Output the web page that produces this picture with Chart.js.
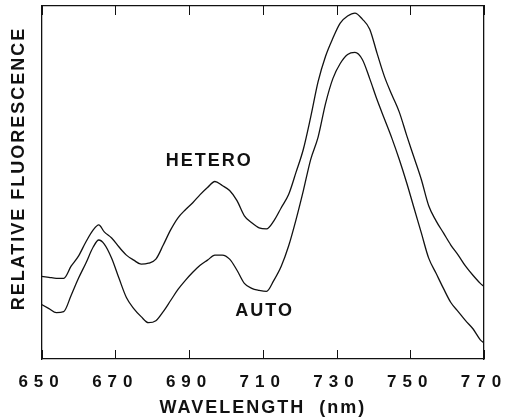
<!DOCTYPE html>
<html>
<head>
<meta charset="utf-8">
<script src="https://cdn.jsdelivr.net/npm/chart.js@4.4.1/dist/chart.umd.min.js"></script>
<style>
  html, body { margin: 0; padding: 0; background: #fff; }
  #wrap { width: 506px; height: 420px; }
</style>
</head>
<body>
<div id="wrap"><canvas id="spectrum"></canvas></div>
<script>
// emission spectra (arbitrary units)
let wavelength = [650, 652, 654, 656, 658, 660, 662, 664, 665.5, 667, 669, 671, 673, 675, 677, 679, 681, 683, 685, 687,
  689, 691, 693, 695, 697, 699, 701, 703, 705, 707, 709, 711, 713, 715, 717, 719, 721, 723, 725, 727,
  729, 731, 733, 735, 737, 739, 741, 743, 745, 747, 749, 751, 753, 755, 757, 759, 761, 763, 765, 767, 769, 770];
let hetero = [82, 81, 80, 80, 92, 102, 116, 128, 133, 126, 120, 111, 103, 98, 94, 95, 99, 113, 128, 140,
  148, 155, 163, 170, 176, 172, 167, 157, 142, 135, 130, 129, 137, 150, 163, 185, 208, 240, 275, 300,
  318, 333, 340, 343, 337, 327, 303, 280, 262, 245, 222, 200, 178, 152, 137, 125, 113, 103, 92, 83, 75, 72];
let auto = [54, 50, 46, 47, 63, 80, 95, 111, 118, 114, 100, 80, 61, 50, 42, 36, 38, 47, 58, 69,
  78, 86, 93, 98, 103, 103, 99, 88, 75, 70, 68, 67, 78, 92, 112, 138, 167, 198, 220, 253,
  278, 293, 302, 304, 297, 278, 257, 238, 219, 198, 175, 150, 125, 100, 85, 70, 56, 47, 38, 30, 19, 16];
let xTicks = [650, 670, 690, 710, 730, 750, 770];
let curveLabels = [
  { text: 'HETERO', x: 695.5, y: 196 },
  { text: 'AUTO', x: 710.5, y: 48 }
];

function pts(ys){
  return wavelength.map(function(w, i){ return { x: w, y: ys[i] }; });
}

// wide letter spacing like the typeset original
const spacing = {
  id: 'spacing',
  beforeInit: function(chart){
    const ctx = chart.ctx;
    const fill = ctx.fillText;
    ctx.fillText = function(t, x, y, w){
      this.letterSpacing = /^\d+$/.test(String(t)) ? '6px' : '2px';
      return fill.call(this, t, x, y, w);
    };
  }
};

// tick marks pointing into the plot, top and bottom
const inTicks = {
  id: 'inTicks',
  afterDraw: function(chart){
    const ctx = chart.ctx;
    const xs = chart.scales.x;
    const a = chart.chartArea;
    ctx.save();
    ctx.strokeStyle = '#111';
    ctx.lineWidth = 1;
    ctx.beginPath();
    xs.ticks.forEach(function(t){
      const px = Math.round(xs.getPixelForValue(t.value)) + 0.5;
      ctx.moveTo(px, a.bottom);
      ctx.lineTo(px, a.bottom - 9);
      ctx.moveTo(px, a.top);
      ctx.lineTo(px, a.top + 9);
    });
    ctx.stroke();
    ctx.restore();
  }
};

const curveText = {
  id: 'curveText',
  afterDatasetsDraw: function(chart){
    const ctx = chart.ctx;
    const xs = chart.scales.x, ys = chart.scales.y;
    ctx.save();
    ctx.font = 'bold 18px "Liberation Sans", Arial, sans-serif';
    ctx.fillStyle = '#111';
    ctx.textAlign = 'center';
    ctx.textBaseline = 'middle';
    curveLabels.forEach(function(l){
      ctx.fillText(l.text, xs.getPixelForValue(l.x), ys.getPixelForValue(l.y));
    });
    ctx.restore();
  }
};

const ctx = document.getElementById('spectrum');
const font = { family: '"Liberation Sans", Arial, sans-serif', weight: 'bold' };

new Chart(ctx, {
  type: 'scatter',
  data: {
    datasets: [{
      label: 'HETERO',
      data: pts(hetero),
      showLine: true,
      borderColor: '#111',
      borderWidth: 1.3,
      pointRadius: 0,
      cubicInterpolationMode: 'monotone'
    }, {
      label: 'AUTO',
      data: pts(auto),
      showLine: true,
      borderColor: '#111',
      borderWidth: 1.3,
      pointRadius: 0,
      cubicInterpolationMode: 'monotone'
    }]
  },
  options: {
    responsive: true,
    maintainAspectRatio: false,
    animation: false,
    layout: { padding: { left: 8, right: 0, top: 6, bottom: 1 } },
    plugins: { legend: { display: false }, tooltip: { enabled: false } },
    scales: {
      x: {
        type: 'linear',
        min: 650,
        max: 770,
        afterBuildTicks: function(s){ s.ticks = xTicks.map(function(v){ return { value: v }; }); },
        afterFit: function(s){ s.paddingRight = 22; },
        grid: { drawOnChartArea: false, drawTicks: false },
        border: { color: '#111', width: 1.3 },
        ticks: { color: '#111', font: Object.assign({ size: 17 }, font), padding: 13, maxRotation: 0 },
        title: { display: true, text: 'WAVELENGTH  (nm)', color: '#111', font: Object.assign({ size: 18 }, font), padding: { top: -8, bottom: 0 } }
      },
      x2: {
        type: 'linear',
        position: 'top',
        min: 650,
        max: 770,
        grid: { drawOnChartArea: false, drawTicks: false },
        border: { color: '#111', width: 1.3 },
        ticks: { display: false }
      },
      y: {
        min: 0,
        max: 350,
        grid: { display: false, drawTicks: false },
        border: { color: '#111', width: 1.3 },
        ticks: { display: false },
        title: { display: true, text: '    RELATIVE FLUORESCENCE', color: '#111', font: Object.assign({ size: 18 }, font), padding: { top: 0, bottom: 12 } }
      },
      y2: {
        position: 'right',
        min: 0,
        max: 350,
        grid: { display: false, drawTicks: false },
        border: { color: '#111', width: 1.3 },
        ticks: { display: false }
      }
    }
  },
  plugins: [spacing, inTicks, curveText]
});
</script>
</body>
</html>
